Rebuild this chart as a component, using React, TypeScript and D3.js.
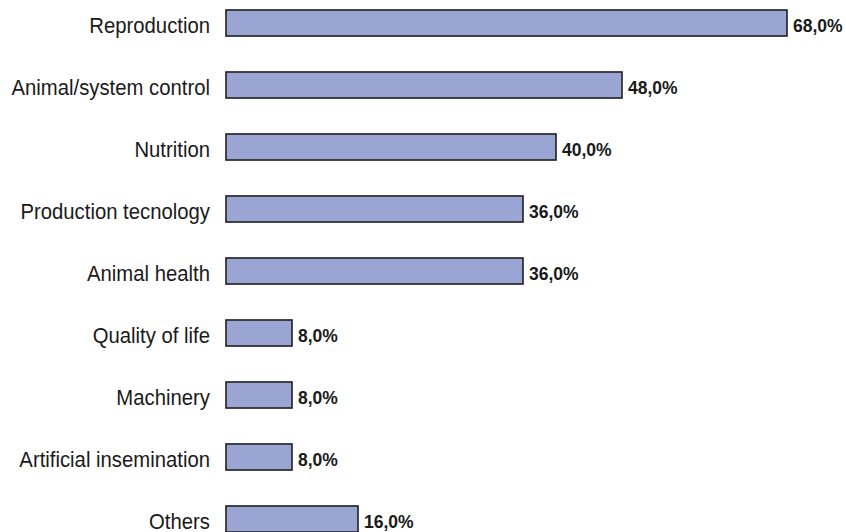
import React from "react";
import * as d3 from "d3";

// survey topics and share of respondents (%)
const categories = [
  "Reproduction",
  "Animal/system control",
  "Nutrition",
  "Production tecnology",
  "Animal health",
  "Quality of life",
  "Machinery",
  "Artificial insemination",
  "Others",
];
const values = [68, 48, 40, 36, 36, 8, 8, 8, 16];

const width = 846;
const height = 532;

const fmt = (v: number) => v.toFixed(1).replace(".", ",") + "%";

export default function App() {
  const x = d3.scaleLinear().domain([0, 68]).range([226, 787]);
  // step 62px, bars 26px tall
  const y = d3
    .scaleBand<string>()
    .domain(categories)
    .range([-8, -8 + 62 * 9])
    .paddingInner(0.58)
    .paddingOuter(0.29);

  return (
    <>
      <style>{"body{margin:0}"}</style>
      <svg width={width} height={height} style={{ display: "block", fontFamily: "'Liberation Sans', Arial, sans-serif" }}>
        {categories.map((c, i) => {
          const y0 = y(c)!;
          const cy = y0 + y.bandwidth() / 2;
          return (
            <g key={c}>
              {/* the source text is slightly stretched vertically */}
              <text
                transform={`translate(210,${cy + 9.5}) scale(1,1.12)`}
                textAnchor="end"
                fontSize={20.3}
                fill="#1a1a1a"
              >
                {c}
              </text>
              <rect
                x={x(0)}
                y={y0}
                width={x(values[i]) - x(0)}
                height={y.bandwidth()}
                fill="#9ba5d4"
                stroke="#1f1f1f"
                strokeWidth={1.6}
              />
              <text
                transform={`translate(${x(values[i]) + 6},${cy + 8.5}) scale(1,1.06)`}
                fontSize={17.5}
                fontWeight="bold"
                fill="#1a1a1a"
              >
                {fmt(values[i])}
              </text>
            </g>
          );
        })}
      </svg>
    </>
  );
}
